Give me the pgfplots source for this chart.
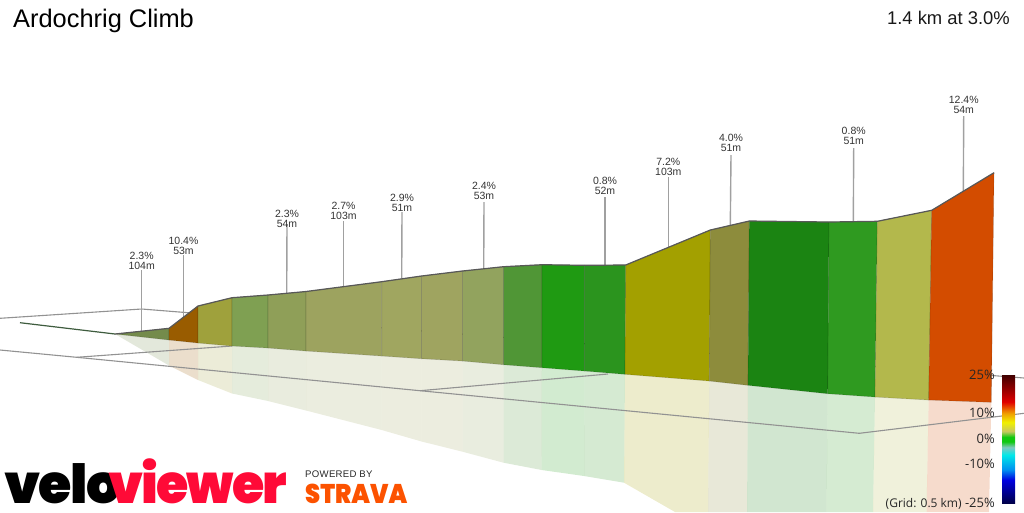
\documentclass[border=0pt]{standalone}
\usepackage{fontspec}
\usepackage{pgfplots}
\pgfplotsset{compat=1.18}
\setmainfont{Liberation Sans}
\newfontfamily\legfont{Open Sans}
\newfontfamily\logofont[LetterSpace=-3,FakeStretch=1.0]{Poppins Black}
\newfontfamily\logofontb[LetterSpace=-3.5,FakeStretch=0.97]{Poppins Black}
\newfontfamily\stravafont[FakeStretch=0.895]{Poppins Black}
\newfontfamily\pwfont[LetterSpace=3]{Liberation Sans}

\definecolor{griddy}{HTML}{929292}
\definecolor{leader}{HTML}{A0A0A0}
\definecolor{ridge}{HTML}{585858}
\definecolor{startline}{RGB}{62,92,62}
\definecolor{vvred}{RGB}{255,10,55}
\definecolor{stravaor}{RGB}{252,82,0}

% gradient scale; tikz shows only 25bp to 75bp of the shading
\definecolor{c0}{HTML}{00004A}
\definecolor{c1}{HTML}{0000E0}
\definecolor{c2}{HTML}{0090F0}
\definecolor{c3}{HTML}{00E8E8}
\definecolor{c4}{HTML}{80C8C0}
\definecolor{c5}{HTML}{10C810}
\definecolor{c6}{HTML}{C8C860}
\definecolor{c7}{HTML}{F0F000}
\definecolor{c8}{HTML}{F0A000}
\definecolor{c9}{HTML}{E00000}
\definecolor{c10}{HTML}{400000}
\pgfdeclareverticalshading{gradscale}{100bp}{
  color(0bp)=(c0); color(25bp)=(c0); color(34bp)=(c1); color(38bp)=(c2); color(43.75bp)=(c3);
  color(46.75bp)=(c4); color(49bp)=(c5); color(50.75bp)=(c5); color(53bp)=(c6);
  color(56.5bp)=(c7); color(60bp)=(c8); color(64.5bp)=(c9); color(75bp)=(c10); color(100bp)=(c10)}

% segment colours, left to right
\definecolor{s1}{RGB}{116,139,75}
\definecolor{s2}{RGB}{153,92,0}
\definecolor{s3}{RGB}{159,161,60}
\definecolor{s4}{RGB}{127,160,82}
\definecolor{s5}{RGB}{143,159,88}
\definecolor{s6}{RGB}{157,163,95}
\definecolor{s7}{RGB}{160,166,96}
\definecolor{s8}{RGB}{159,164,96}
\definecolor{s9}{RGB}{146,163,94}
\definecolor{s10}{RGB}{80,150,54}
\definecolor{s11}{RGB}{31,154,18}
\definecolor{s12}{RGB}{43,148,30}
\definecolor{s13}{RGB}{163,160,0}
\definecolor{s14}{RGB}{141,140,60}
\definecolor{s15}{RGB}{27,132,18}
\definecolor{s16}{RGB}{47,154,32}
\definecolor{s17}{RGB}{179,184,76}
\definecolor{s18}{RGB}{211,76,0}

\tikzset{
  slab/.style={fill=#1, draw=black, draw opacity=0.15, line width=0.7pt},
  mirror/.style={fill=#1, fill opacity=0.2, draw=none},
  gline/.style={griddy, line width=1.1pt},
  lead/.style={leader, line width=1.4pt},
}
\newcommand{\lab}[4]{%
  \node[anchor=base, font=\fontsize{10.5}{10.5}\selectfont, text=black!80] at (axis cs:#1,#2) {#3};
  \node[anchor=base, font=\fontsize{10.5}{10.5}\selectfont, text=black!80] at (axis cs:#1,#2+10.5) {#4};
}
\newcommand{\barlab}[2]{%
  \node[anchor=base east, inner sep=0pt, font=\legfont\fontsize{13}{13}\selectfont, text=black!85] at (axis cs:995,#1) {#2};
}

\begin{document}
\begin{tikzpicture}
\useasboundingbox (0,0) rectangle (1024pt,512pt);
\begin{axis}[
    scale only axis, width=1024pt, height=512pt,
    xmin=0, xmax=1024, ymin=0, ymax=512,
    y dir=reverse, hide axis,
  ]
  % reflections on the floor
  \addplot[mirror=s1] coordinates {(115,334)(169,340)(169,365.5)} --cycle;
  \addplot[mirror=s2] coordinates {(169,340)(198,343)(198,380)(169,365.5)} --cycle;
  \addplot[mirror=s3] coordinates {(198,343)(232,346)(232,393.5)(198,380)} --cycle;
  \addplot[mirror=s4] coordinates {(232,346)(268,348)(268,401)(232,393.5)} --cycle;
  \addplot[mirror=s5] coordinates {(268,348)(306,351)(306,410.5)(268,401)} --cycle;
  \addplot[mirror=s6] coordinates {(306,351)(381.7,356)(381.7,430)(306,410.5)} --cycle;
  \addplot[mirror=s7] coordinates {(381.7,356)(421.5,358.7)(421.5,441.5)(381.7,430)} --cycle;
  \addplot[mirror=s8] coordinates {(421.5,358.7)(462.5,361)(462.5,451.7)(421.5,441.5)} --cycle;
  \addplot[mirror=s9] coordinates {(462.5,361)(503.5,364.7)(503.5,462.7)(462.5,451.7)} --cycle;
  \addplot[mirror=s10] coordinates {(503.5,364.7)(542,367.7)(541.7,470)(503.5,462.7)} --cycle;
  \addplot[mirror=s11] coordinates {(542,367.7)(584.5,371)(584,476)(541.7,470)} --cycle;
  \addplot[mirror=s12] coordinates {(584.5,371)(625,374.3)(624,482.7)(584,476)} --cycle;
  \addplot[mirror=s13] coordinates {(625,374.3)(709.3,381)(708,512)(675,512)(624,482.7)} --cycle;
  \addplot[mirror=s14] coordinates {(709.3,381)(748,385.3)(747,512)(708,512)} --cycle;
  \addplot[mirror=s15] coordinates {(748,385.3)(827.7,393.7)(826.5,512)(747,512)} --cycle;
  \addplot[mirror=s16] coordinates {(827.7,393.7)(875,397)(873,512)(826.5,512)} --cycle;
  \addplot[mirror=s17] coordinates {(875,397)(928.7,400)(926.5,512)(873,512)} --cycle;
  \addplot[mirror=s18] coordinates {(928.7,400)(991.3,402.3)(989,512)(926.5,512)} --cycle;

  % grid on the floor
  \addplot[gline] coordinates {(0,318.3)(141.7,309)(183,312.3)(1024,378)};
  \addplot[gline] coordinates {(0,350)(76.7,357.3)(420,390.7)(859.3,433.3)(1024,413.3)};
  \addplot[gline] coordinates {(76.7,357.3)(232,346)};
  \addplot[gline] coordinates {(420,390.7)(608,374)};

  % leader lines
  \addplot[lead] coordinates {(141.7,270)(141.7,332)};
  \addplot[lead] coordinates {(183.5,255)(183.5,318)};
  \addplot[lead] coordinates {(287,224)(286.7,293)};
  \addplot[lead] coordinates {(343.5,221)(343.5,286)};
  \addplot[lead] coordinates {(402,212)(401.7,278)};
  \addplot[lead] coordinates {(484,202)(483.7,268)};
  \addplot[lead] coordinates {(605,197)(605,265)};
  \addplot[lead] coordinates {(668.3,177)(668.3,247)};
  \addplot[lead] coordinates {(731,155)(730.3,225)};
  \addplot[lead] coordinates {(853.7,148)(853.3,222)};
  \addplot[lead] coordinates {(963.7,116)(963.3,192)};

  % climb segments
  \addplot[slab=s1] coordinates {(115,334)(169,328.3)(169,340)} --cycle;
  \addplot[slab=s2] coordinates {(169,328.3)(198,306)(198,343)(169,340)} --cycle;
  \addplot[slab=s3] coordinates {(198,306)(232,297.7)(232,346)(198,343)} --cycle;
  \addplot[slab=s4] coordinates {(232,297.7)(268,295)(268,348)(232,346)} --cycle;
  \addplot[slab=s5] coordinates {(268,295)(306,291.5)(306,351)(268,348)} --cycle;
  \addplot[slab=s6] coordinates {(306,291.5)(381.7,281.7)(381.7,356)(306,351)} --cycle;
  \addplot[slab=s7] coordinates {(381.7,281.7)(421.5,276)(421.5,358.7)(381.7,356)} --cycle;
  \addplot[slab=s8] coordinates {(421.5,276)(462.5,271)(462.5,361)(421.5,358.7)} --cycle;
  \addplot[slab=s9] coordinates {(462.5,271)(503.5,266.7)(503.5,364.7)(462.5,361)} --cycle;
  \addplot[slab=s10] coordinates {(503.5,266.7)(542,264.7)(542,367.7)(503.5,364.7)} --cycle;
  \addplot[slab=s11] coordinates {(542,264.7)(584.5,265.3)(584.5,371)(542,367.7)} --cycle;
  \addplot[slab=s12] coordinates {(584.5,265.3)(625.7,265)(625,374.3)(584.5,371)} --cycle;
  \addplot[slab=s13] coordinates {(625.7,265)(710.3,230)(709.3,381)(625,374.3)} --cycle;
  \addplot[slab=s14] coordinates {(710.3,230)(749.3,221)(748,385.3)(709.3,381)} --cycle;
  \addplot[slab=s15] coordinates {(749.3,221)(829,222)(827.7,393.7)(748,385.3)} --cycle;
  \addplot[slab=s16] coordinates {(829,222)(877.3,221.3)(875,397)(827.7,393.7)} --cycle;
  \addplot[slab=s17] coordinates {(877.3,221.3)(931.7,210.3)(928.7,400)(875,397)} --cycle;
  \addplot[slab=s18] coordinates {(931.7,210.3)(994,172.7)(991.3,402.3)(928.7,400)} --cycle;

  % ridge line
  \addplot[startline, line width=1.2pt] coordinates {(20,322.7)(115,334)};
  \addplot[ridge, line width=1.2pt] coordinates {
    (115,334)(169,328.3)(198,306)(232,297.7)(268,295)(306,291.5)(381.7,281.7)(421.5,276)
    (462.5,271)(503.5,266.7)(542,264.7)(584.5,265.3)(625.7,265)(710.3,230)(749.3,221)
    (829,222)(877.3,221.3)(931.7,210.3)(994,172.7)
  };

  % gradient scale
  \addplot[draw=none, shading=gradscale] coordinates {(1002,375)(1015,375)(1015,503)(1002,503)} --cycle;

  % segment labels
  \lab{141.7}{259}{2.3\%}{104m}
  \lab{183.5}{244}{10.4\%}{53m}
  \lab{287}{217}{2.3\%}{54m}
  \lab{343.5}{209}{2.7\%}{103m}
  \lab{402}{201}{2.9\%}{51m}
  \lab{484}{189}{2.4\%}{53m}
  \lab{605}{184}{0.8\%}{52m}
  \lab{668.3}{165}{7.2\%}{103m}
  \lab{731}{141}{4.0\%}{51m}
  \lab{853.7}{134}{0.8\%}{51m}
  \lab{963.7}{103}{12.4\%}{54m}

  % title and summary
  \node[anchor=base west, inner sep=0pt, font=\fontsize{25.4}{25.4}\selectfont] at (axis cs:13,27) {Ardochrig Climb};
  \node[anchor=base east, inner sep=0pt, font=\fontsize{18.4}{18.4}\selectfont, text=black!90] at (axis cs:1010,24) {1.4 km at 3.0\%};

  % scale labels
  \barlab{379}{25\%}
  \barlab{417}{10\%}
  \barlab{443}{0\%}
  \barlab{468}{-10\%}
  \barlab{507}{{\fontsize{12}{12}\selectfont (Grid: 0.5 km)} -25\%}

  % logos
  \node[anchor=base west, inner sep=0pt, font=\logofont\fontsize{54}{54}\selectfont, text=black] at (axis cs:4,503) {velo};
  \node[anchor=base west, inner sep=0pt, font=\logofontb\fontsize{54}{54}\selectfont, text=vvred] at (axis cs:108,503) {viewer};
  \node[anchor=base west, inner sep=0pt, font=\pwfont\fontsize{9.6}{9.6}\selectfont, text=black!85] at (axis cs:305,477.5) {POWERED BY};
  \node[anchor=base west, inner sep=0pt, font=\stravafont\fontsize{27}{27}\selectfont, text=stravaor] at (axis cs:305,503) {STRAVA};
\end{axis}
\end{tikzpicture}
\end{document}
